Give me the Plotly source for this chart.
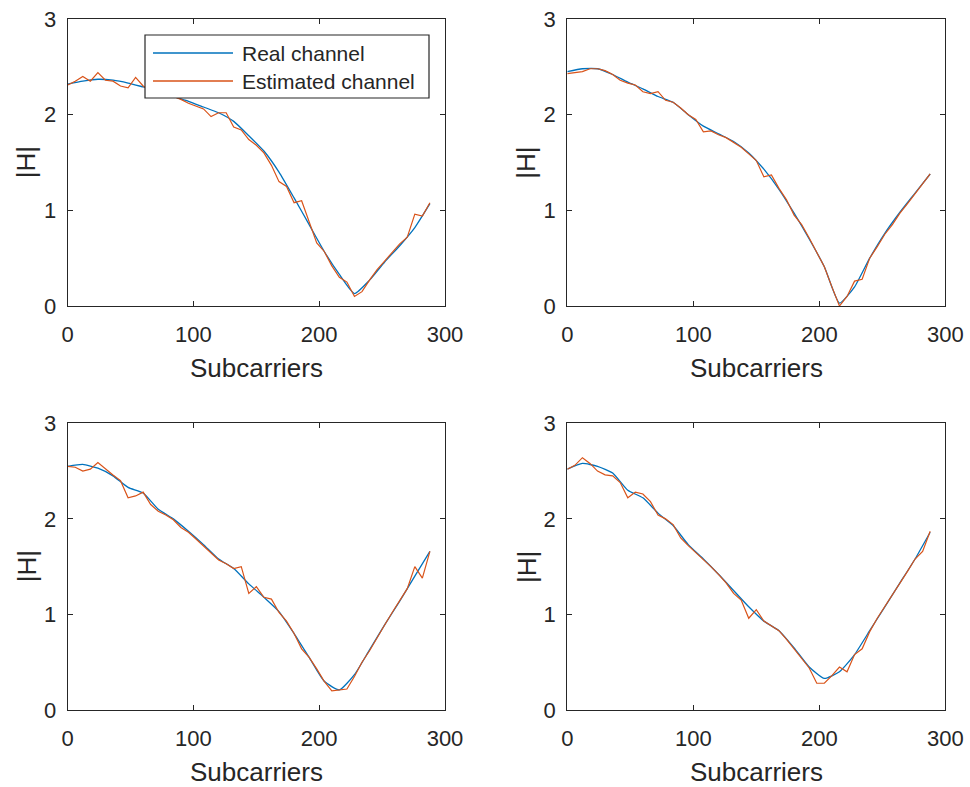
import plotly.graph_objects as go

# Subcarrier grids
sub_real = list(range(0, 289, 12))
sub_est = list(range(0, 289, 6))

# Channel magnitude |H| for four channel realisations
real_1 = [2.32, 2.35, 2.37, 2.36, 2.33, 2.29, 2.25, 2.19, 2.14, 2.08, 2.02, 1.93, 1.78,
          1.62, 1.40, 1.13, 0.85, 0.57, 0.33, 0.13, 0.27, 0.46, 0.63, 0.82, 1.07]
est_1 = [2.31, 2.35, 2.40, 2.35, 2.44, 2.36, 2.35, 2.30, 2.28, 2.39, 2.30, 2.24, 2.25,
         2.20, 2.19, 2.16, 2.12, 2.09, 2.06, 1.98, 2.02, 2.02, 1.87, 1.84, 1.74, 1.68,
         1.60, 1.47, 1.30, 1.25, 1.08, 1.10, 0.88, 0.66, 0.57, 0.42, 0.30, 0.25, 0.10,
         0.15, 0.27, 0.38, 0.47, 0.56, 0.65, 0.72, 0.96, 0.94, 1.08]

real_2 = [2.45, 2.48, 2.48, 2.42, 2.34, 2.27, 2.19, 2.13, 2.00, 1.88, 1.80, 1.72, 1.60,
          1.43, 1.22, 0.97, 0.70, 0.41, 0.03, 0.20, 0.50, 0.76, 0.98, 1.18, 1.38]
est_2 = [2.43, 2.44, 2.45, 2.48, 2.48, 2.46, 2.42, 2.36, 2.33, 2.31, 2.24, 2.22, 2.24,
         2.15, 2.13, 2.07, 2.00, 1.95, 1.82, 1.83, 1.79, 1.76, 1.71, 1.66, 1.59, 1.52,
         1.35, 1.37, 1.23, 1.11, 0.95, 0.85, 0.71, 0.56, 0.41, 0.20, 0.00, 0.10, 0.26,
         0.28, 0.50, 0.62, 0.75, 0.85, 0.97, 1.07, 1.17, 1.28, 1.38]

real_3 = [2.55, 2.57, 2.53, 2.45, 2.33, 2.27, 2.10, 2.00, 1.87, 1.73, 1.58, 1.48, 1.32,
          1.18, 1.03, 0.80, 0.55, 0.30, 0.21, 0.37, 0.63, 0.89, 1.14, 1.40, 1.66]
est_3 = [2.55, 2.54, 2.50, 2.52, 2.59, 2.52, 2.46, 2.40, 2.22, 2.24, 2.28, 2.15, 2.08,
         2.04, 1.99, 1.91, 1.86, 1.79, 1.72, 1.64, 1.57, 1.53, 1.48, 1.50, 1.22, 1.29,
         1.18, 1.16, 1.02, 0.93, 0.80, 0.64, 0.55, 0.43, 0.30, 0.20, 0.21, 0.22, 0.35,
         0.50, 0.62, 0.76, 0.89, 1.02, 1.14, 1.27, 1.50, 1.38, 1.66]

real_4 = [2.52, 2.58, 2.55, 2.48, 2.30, 2.22, 2.06, 1.93, 1.73, 1.58, 1.42, 1.25, 1.08,
          0.93, 0.83, 0.65, 0.45, 0.33, 0.40, 0.58, 0.83, 1.08, 1.33, 1.58, 1.86]
est_4 = [2.52, 2.56, 2.64, 2.58, 2.50, 2.46, 2.45, 2.38, 2.22, 2.28, 2.26, 2.18, 2.04,
         2.00, 1.94, 1.80, 1.72, 1.65, 1.58, 1.50, 1.42, 1.33, 1.22, 1.15, 0.96, 1.05,
         0.93, 0.88, 0.83, 0.74, 0.64, 0.55, 0.44, 0.28, 0.28, 0.36, 0.45, 0.40, 0.58,
         0.64, 0.82, 0.96, 1.08, 1.20, 1.33, 1.45, 1.58, 1.66, 1.87]

x_ticks = [0, 100, 200, 300]
y_ticks = [0, 1, 2, 3]
x_title = "Subcarriers"
y_title = "|H|"
legend_labels = ["Real channel", "Estimated channel"]

BLUE = "#0072BD"
ORANGE = "#D95319"
AXIS = "#262626"
FONT = "Liberation Sans, Arial, Helvetica, sans-serif"

W, H = 970, 787


def fx(px):
    return px / W


def fy(py):
    return 1 - py / H


# Panel boxes in pixels: (left, right, top, bottom)
panels = [
    (67.7, 445.0, 19.0, 306.0),
    (567.3, 945.3, 19.0, 306.0),
    (67.7, 445.0, 423.3, 710.0),
    (567.3, 945.3, 423.3, 710.0),
]
series = [(real_1, est_1), (real_2, est_2), (real_3, est_3), (real_4, est_4)]

fig = go.Figure()
layout = dict(
    width=W, height=H,
    margin=dict(l=0, r=0, t=0, b=0, autoexpand=False),
    paper_bgcolor="white", plot_bgcolor="white",
    showlegend=False,
    font=dict(family=FONT, color=AXIS),
)
annotations = []
shapes = []

for i, ((l, r, t, b), (re, es)) in enumerate(zip(panels, series), start=1):
    sfx = "" if i == 1 else str(i)
    fig.add_trace(go.Scatter(x=sub_real, y=re, mode="lines", name=legend_labels[0],
                             line=dict(color=BLUE, width=1.3, shape="spline", smoothing=0.5),
                             xaxis="x" + sfx, yaxis="y" + sfx))
    fig.add_trace(go.Scatter(x=sub_est, y=es, mode="lines", name=legend_labels[1],
                             line=dict(color=ORANGE, width=1.2),
                             xaxis="x" + sfx, yaxis="y" + sfx))
    common = dict(showline=True, linecolor=AXIS, linewidth=1.2, mirror="ticks",
                  ticks="inside", ticklen=5, tickwidth=1, tickcolor=AXIS,
                  showgrid=False, zeroline=False, fixedrange=True, automargin=False,
                  tickfont=dict(family=FONT, size=22, color=AXIS))
    layout["xaxis" + sfx] = dict(common, domain=[fx(l), fx(r)], range=[0, 300],
                                 tickvals=x_ticks, anchor="y" + sfx,
                                 ticklabelstandoff=8)
    layout["yaxis" + sfx] = dict(common, domain=[fy(b), fy(t)], range=[0, 3],
                                 tickvals=y_ticks, anchor="x" + sfx,
                                 ticklabelstandoff=6)
    annotations.append(dict(text=x_title, xref="paper", yref="paper",
                            x=fx((l + r) / 2), y=fy(b + 62), xanchor="center",
                            yanchor="middle", showarrow=False,
                            font=dict(family=FONT, size=26, color=AXIS)))
    annotations.append(dict(text=y_title, xref="paper", yref="paper",
                            x=fx(l - 41), y=fy((t + b) / 2), xanchor="center",
                            yanchor="middle", textangle=-90, showarrow=False,
                            font=dict(family=FONT, size=26, color=AXIS)))

# Legend box inside the first panel
lg_l, lg_r, lg_t, lg_b = 145, 429, 35, 98
shapes.append(dict(type="rect", xref="paper", yref="paper",
                   x0=fx(lg_l), x1=fx(lg_r), y0=fy(lg_b), y1=fy(lg_t),
                   line=dict(color=AXIS, width=1.2), fillcolor="white", layer="above"))
for label, color, yrow in zip(legend_labels, [BLUE, ORANGE], [53, 81]):
    shapes.append(dict(type="line", xref="paper", yref="paper",
                       x0=fx(153), x1=fx(233), y0=fy(yrow), y1=fy(yrow),
                       line=dict(color=color, width=1.3), layer="above"))
    annotations.append(dict(text=label, xref="paper", yref="paper",
                            x=fx(240), y=fy(yrow), xanchor="left", yanchor="middle",
                            showarrow=False,
                            font=dict(family=FONT, size=21, color=AXIS)))

layout["annotations"] = annotations
layout["shapes"] = shapes
fig.update_layout(**layout)
fig.write_html("out.html")
